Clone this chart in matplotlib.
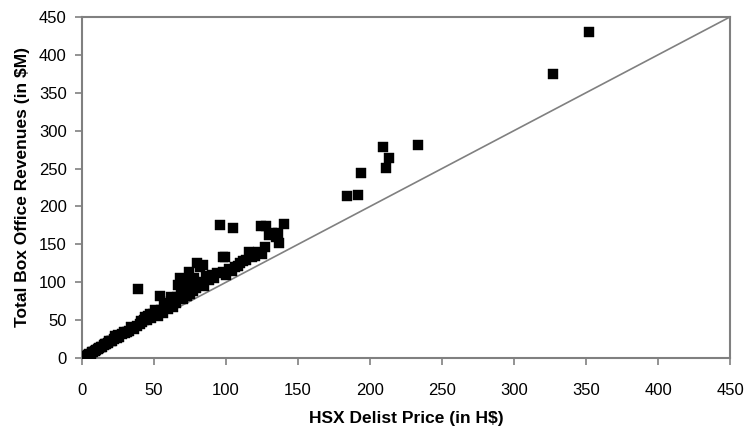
import matplotlib.pyplot as plt
import numpy as np

plt.rcParams['font.family'] = ['Liberation Sans', 'DejaVu Sans']

# HSX delist price (H$) vs total box office revenues ($M)
delist_price = [0, 1, 2, 3, 4, 5, 6, 7, 8, 9, 10, 11, 12, 13, 14, 15, 16, 17, 18, 19,
                20, 21, 22, 24, 25, 26, 28, 30, 31, 33, 35, 36, 38, 39, 40, 42, 43, 45, 46, 48,
                50, 52, 53, 54, 55, 56, 58, 60, 61, 62, 63, 65, 66, 67, 68, 69, 70, 71, 72, 73,
                74, 75, 76, 77, 78, 79, 80, 81, 82, 83, 85, 86, 88, 90, 92, 94, 96, 98, 99, 100,
                102, 104, 105, 106, 108, 110, 112, 114, 116, 118, 120, 122, 124, 125, 127, 128,
                130, 132, 135, 137, 136, 140, 84, 98, 90, 64, 57, 47, 44,
                23, 29, 34, 41, 49, 51, 59, 71, 75, 62,
                184, 192, 194, 209, 211, 213, 233, 327, 352]
box_office = [0, 1, 2, 3, 4, 5, 6, 8, 8, 10, 11, 12, 13, 14, 15, 17, 18, 19, 20, 22,
              23, 22, 25, 27, 30, 28, 32, 33, 35, 36, 40, 38, 42, 91, 45, 47, 50, 50, 55, 53,
              57, 60, 56, 82, 63, 60, 66, 65, 70, 75, 68, 72, 80, 96, 105, 85, 78, 90, 100, 82,
              113, 85, 95, 88, 105, 92, 125, 98, 120, 100, 95, 108, 103, 110, 105, 112, 175, 113, 133, 110,
              118, 115, 172, 120, 122, 125, 128, 130, 140, 133, 135, 140, 174, 137, 147, 174,
              162, 165, 160, 152, 165, 177, 123, 133, 107, 77, 70, 58, 54,
              29, 35, 41, 49, 58, 63, 72, 96, 100, 80,
              214, 215, 244, 278, 251, 264, 281, 375, 430]

fig = plt.figure(figsize=(7.45, 4.33), dpi=100)
ax = fig.add_axes([0.110, 0.173, 0.870, 0.788])

# 45 degree reference line
diag = np.array([0, 450])
ax.plot(diag, diag, color='#808080', linewidth=1.2, zorder=1)

ax.scatter(delist_price, box_office, marker='s', s=58, color='black',
           edgecolors='black', linewidths=0.3, zorder=3)

ax.set_xlim(0, 450)
ax.set_ylim(0, 450)
ax.set_xticks(np.arange(0, 451, 50))
ax.set_yticks(np.arange(0, 451, 50))

for side in ['left', 'right', 'top', 'bottom']:
    ax.spines[side].set_color('#808080')
    ax.spines[side].set_linewidth(1.5)

ax.tick_params(direction='out', length=5, width=1.2, color='#808080',
               labelsize=12, labelcolor='black')
ax.tick_params(axis='x', pad=13)
ax.tick_params(axis='y', pad=6)

ax.set_xlabel('HSX Delist Price (in H$)', fontsize=12.5, fontweight='bold', labelpad=9)
ax.set_ylabel('Total Box Office Revenues (in $M)', fontsize=12.5, fontweight='bold', labelpad=6)

fig.savefig('out.png', dpi=100)
